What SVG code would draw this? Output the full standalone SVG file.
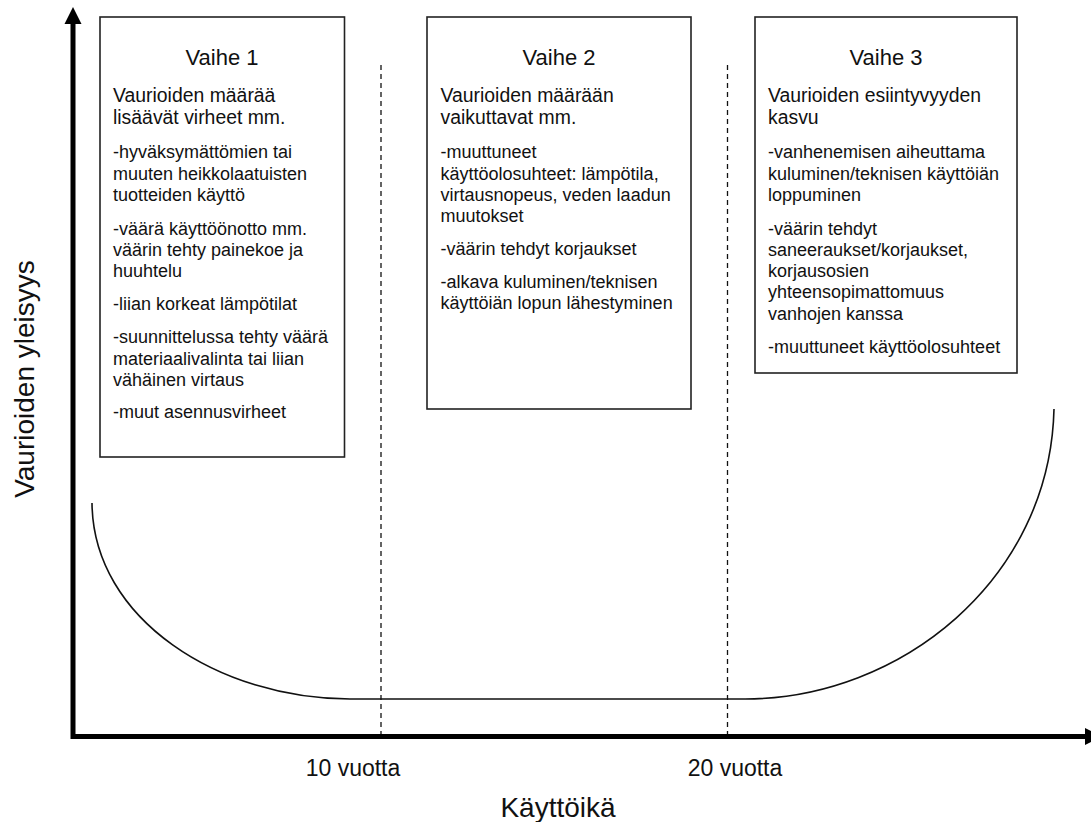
<svg xmlns="http://www.w3.org/2000/svg" width="1091" height="822" viewBox="0 0 1091 822">
<style>
text{font-family:"Liberation Sans",Arial,sans-serif;fill:#111}
.box{fill:#fff;stroke:#222;stroke-width:1.6}
.ttl{font-size:22px;text-anchor:middle}
.sub{font-size:19.4px}
.itm{font-size:18px}
.dash{stroke:#111;stroke-width:1.3;stroke-dasharray:5 4;fill:none}
.axis{stroke:#000;stroke-width:5;fill:none}
.curve{stroke:#111;stroke-width:1.6;fill:none}
.tick{font-size:23px;text-anchor:middle}
.lab{font-size:28px;text-anchor:middle}
</style>
<rect width="1091" height="822" fill="#fff"/>
<g id="connectors">
<line class="dash" x1="381" y1="65" x2="381" y2="736"/>
<line class="dash" x1="727.5" y1="65" x2="727.5" y2="736"/>
<path class="curve" d="M92 503 C93 620 220 699 350 699 L745 699 C900 699 1050 580 1054 409"/>
<line class="axis" x1="73" y1="739" x2="73" y2="22"/>
<polygon points="73,7 64.5,24 81.5,24" fill="#000"/>
<line class="axis" x1="71" y1="736.5" x2="1087" y2="736.5"/>
<polygon points="1102,736.5 1085,728 1085,745" fill="#000"/>
</g>
<g id="vaihe1">
<rect class="box" x="100" y="17" width="244.5" height="440"/>
<text class="ttl" x="222" y="65">Vaihe 1</text>
<text class="sub" x="113"><tspan x="113" y="101.7">Vaurioiden määrää</tspan><tspan x="113" y="124">lisäävät virheet mm.</tspan></text>
<text class="itm"><tspan x="113" y="158">-hyväksymättömien tai</tspan><tspan x="113" y="180">muuten heikkolaatuisten</tspan><tspan x="113" y="201">tuotteiden käyttö</tspan><tspan x="113" y="235">-väärä käyttöönotto mm.</tspan><tspan x="113" y="256">väärin tehty painekoe ja</tspan><tspan x="113" y="277">huuhtelu</tspan><tspan x="113" y="310">-liian korkeat lämpötilat</tspan><tspan x="113" y="343">-suunnittelussa tehty väärä</tspan><tspan x="113" y="365">materiaalivalinta tai liian</tspan><tspan x="113" y="386">vähäinen virtaus</tspan><tspan x="113" y="418">-muut asennusvirheet</tspan></text>
</g>
<g id="vaihe2">
<rect class="box" x="427" y="17" width="264" height="392"/>
<text class="ttl" x="559" y="65">Vaihe 2</text>
<text class="sub"><tspan x="440.5" y="101.7">Vaurioiden määrään</tspan><tspan x="440.5" y="124">vaikuttavat mm.</tspan></text>
<text class="itm"><tspan x="440.5" y="158">-muuttuneet</tspan><tspan x="440.5" y="180">käyttöolosuhteet: lämpötila,</tspan><tspan x="440.5" y="201">virtausnopeus, veden laadun</tspan><tspan x="440.5" y="222">muutokset</tspan><tspan x="440.5" y="255">-väärin tehdyt korjaukset</tspan><tspan x="440.5" y="288">-alkava kuluminen/teknisen</tspan><tspan x="440.5" y="309">käyttöiän lopun lähestyminen</tspan></text>
</g>
<g id="vaihe3">
<rect class="box" x="755" y="17" width="262" height="356"/>
<text class="ttl" x="886" y="65">Vaihe 3</text>
<text class="sub"><tspan x="768" y="101.7">Vaurioiden esiintyvyyden</tspan><tspan x="768" y="124">kasvu</tspan></text>
<text class="itm"><tspan x="768" y="158">-vanhenemisen aiheuttama</tspan><tspan x="768" y="180">kuluminen/teknisen käyttöiän</tspan><tspan x="768" y="201">loppuminen</tspan><tspan x="768" y="235">-väärin tehdyt</tspan><tspan x="768" y="256">saneeraukset/korjaukset,</tspan><tspan x="768" y="277">korjausosien</tspan><tspan x="768" y="298">yhteensopimattomuus</tspan><tspan x="768" y="320">vanhojen kanssa</tspan><tspan x="768" y="353">-muuttuneet käyttöolosuhteet</tspan></text>
</g>
<g id="labels">
<text class="tick" x="353" y="776">10 vuotta</text>
<text class="tick" x="735" y="776">20 vuotta</text>
<text class="lab" x="558" y="817">Käyttöikä</text>
<text class="lab" transform="translate(34 379) rotate(-90)">Vaurioiden yleisyys</text>
</g>
</svg>
